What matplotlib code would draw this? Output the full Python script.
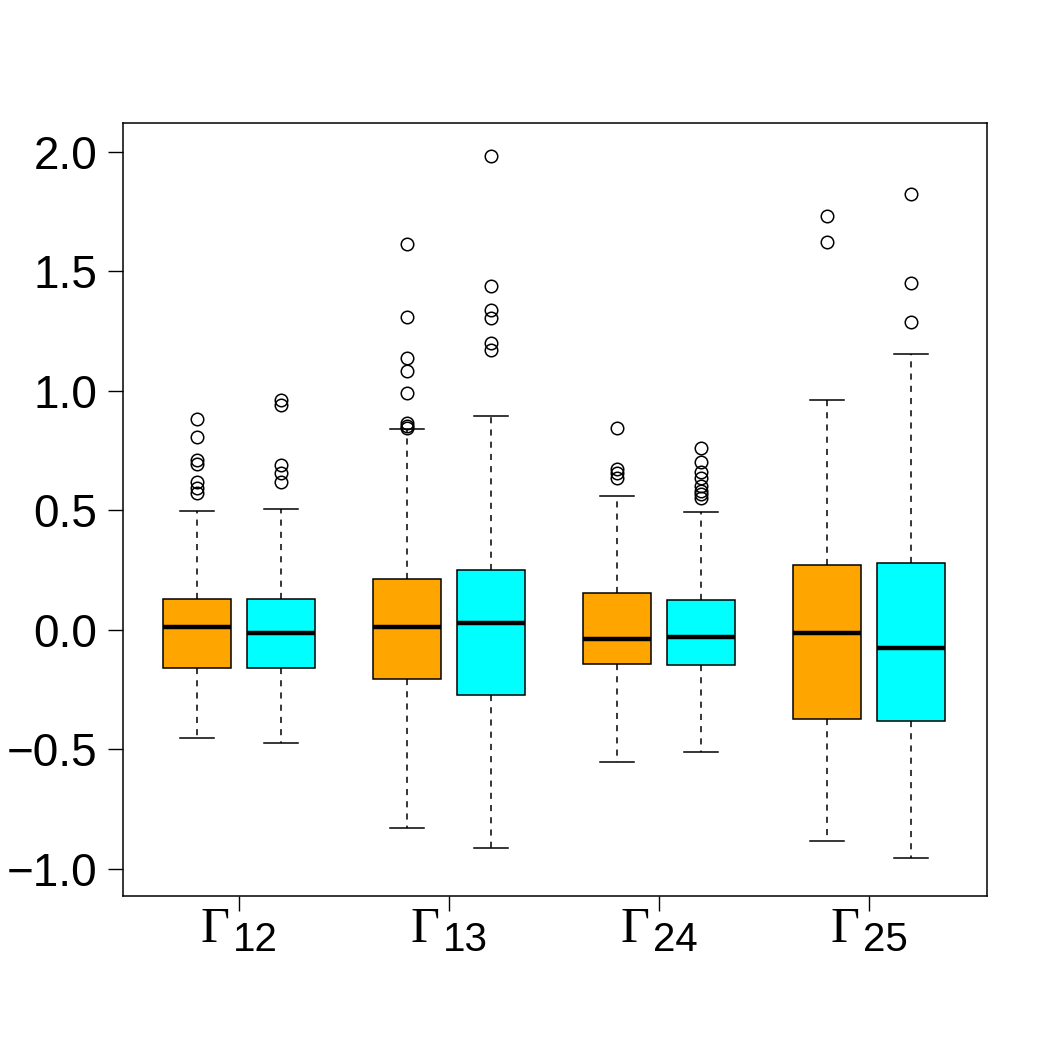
import matplotlib
matplotlib.use('Agg')
import matplotlib.pyplot as plt

plt.rcParams['font.family'] = ['Liberation Sans', 'DejaVu Sans']

# group labels (Gamma with subscript) and the series colours (orange, cyan)
group_subs = ['12', '13', '24', '25']
colors = ['#FFA500', '#00FFFF']

# box statistics, order: G12 orange, G12 cyan, G13 ...
whislo = [-0.453, -0.471, -0.828, -0.912, -0.552, -0.510, -0.883, -0.954]
q1 = [-0.160, -0.160, -0.205, -0.272, -0.142, -0.146, -0.372, -0.381]
med = [0.014, -0.014, 0.013, 0.029, -0.036, -0.028, -0.013, -0.075]
q3 = [0.130, 0.130, 0.213, 0.251, 0.156, 0.124, 0.272, 0.280]
whishi = [0.499, 0.508, 0.840, 0.893, 0.561, 0.492, 0.962, 1.153]
fliers = [
    [0.882, 0.806, 0.711, 0.695, 0.620, 0.593, 0.574],
    [0.962, 0.941, 0.690, 0.656, 0.620],
    [1.614, 1.308, 1.137, 1.085, 0.990, 0.867, 0.854, 0.845],
    [1.983, 1.439, 1.339, 1.304, 1.200, 1.172],
    [0.844, 0.672, 0.656, 0.635],
    [0.760, 0.702, 0.662, 0.635, 0.603, 0.583, 0.568, 0.554],
    [1.732, 1.625],
    [1.824, 1.451, 1.290],
]

positions = [1, 2, 3.5, 4.5, 6, 7, 8.5, 9.5]
tick_pos = [1.5, 4, 6.5, 9]

stats = []
for i in range(len(med)):
    stats.append(dict(whislo=whislo[i], q1=q1[i], med=med[i], q3=q3[i],
                      whishi=whishi[i], fliers=fliers[i]))

fig = plt.figure(figsize=(10.5, 10.5), dpi=100)
ax = fig.add_axes([0.117, 0.1467, 0.823, 0.7362])

bp = ax.bxp(stats, positions=positions, widths=0.81, capwidths=0.405,
            patch_artist=True,
            boxprops=dict(edgecolor='black', linewidth=1.1),
            medianprops=dict(color='black', linewidth=3.2),
            whiskerprops=dict(color='black', linewidth=1.1, linestyle=(0, (4, 4))),
            capprops=dict(color='black', linewidth=1.1),
            flierprops=dict(marker='o', markerfacecolor='none',
                            markeredgecolor='black', markersize=9,
                            markeredgewidth=1.1))
for i, patch in enumerate(bp['boxes']):
    patch.set_facecolor(colors[i % 2])

ax.set_xlim(0.12, 10.40)
ax.set_ylim(-1.113, 2.121)
ax.set_yticks([-1.0, -0.5, 0.0, 0.5, 1.0, 1.5, 2.0])
ax.set_yticklabels(['\u22121.0', '\u22120.5', '0.0', '0.5', '1.0', '1.5', '2.0'])
ax.set_xticks(tick_pos)
ax.set_xticklabels([''] * len(tick_pos))
ax.tick_params(axis='y', labelsize=33, length=10.5, width=1, pad=8)
ax.tick_params(axis='x', length=10.5, width=1)
for s in ax.spines.values():
    s.set_linewidth(1.1)

# x labels: big serif Gamma with a large sans subscript, like R plotmath
for xp, sub in zip(tick_pos, group_subs):
    ax.annotate('\u0393', xy=(xp, 0), xycoords=('data', 'axes fraction'),
                xytext=(-7, -33), textcoords='offset points',
                ha='right', va='baseline', fontsize=36,
                family=['Liberation Serif', 'DejaVu Serif'])
    ax.annotate(sub, xy=(xp, 0), xycoords=('data', 'axes fraction'),
                xytext=(-4.5, -39.5), textcoords='offset points',
                ha='left', va='baseline', fontsize=29)

fig.savefig('out.png', dpi=100, facecolor='white')
